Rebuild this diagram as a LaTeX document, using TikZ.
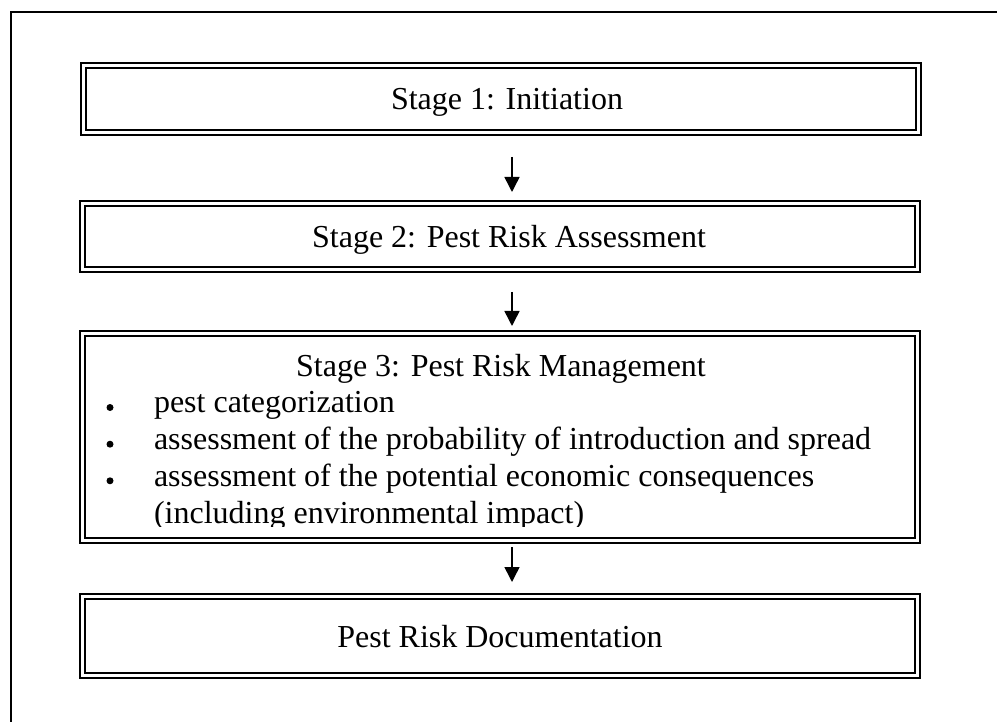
\documentclass[tikz,border=0pt]{standalone}
\usepackage{fontspec}
\setmainfont{Liberation Serif}
\usetikzlibrary{arrows.meta,calc}
\begin{document}
\begin{tikzpicture}[x=1pt,y=-1pt,
  dbox/.style={draw, double, double distance=3pt, line width=2pt, outer sep=0pt, inner sep=0pt},
  txt/.style={inner sep=0pt, outer sep=0pt, font=\fontsize{32}{37}\selectfont},
  bul/.style={circle, fill, inner sep=0pt, minimum size=7pt},
  arr/.style={line width=1.5pt, -{Triangle[length=15pt,width=15pt]}},
  frame/.style={line width=1.8pt}]
\useasboundingbox (0,0) rectangle (997,722);
\clip (0,0) rectangle (997,722);
\draw[frame] (11,12) rectangle (1030,750);
% boxes
\node[dbox, minimum width=834.9pt, minimum height=66.5pt] (b1) at (500.95,99.25) {};
\node[dbox, minimum width=834.5pt, minimum height=66.3pt] (b2) at (499.75,236.85) {};
\node[dbox, minimum width=834.5pt, minimum height=206.5pt] (b3) at (499.75,437.25) {};
\node[dbox, minimum width=834.5pt, minimum height=79.2pt] (b4) at (499.75,636.1) {};
\coordinate (ax) at (512,0);
% texts
\node[txt, anchor=base] (t1) at (507,110) {Stage 1: Initiation};
\node[txt, anchor=base] (t2) at (509,248) {Stage 2: Pest Risk Assessment};
\node[txt, anchor=base] (t3) at (501,377) {Stage 3: Pest Risk Management};
\node[txt, anchor=base] (t4) at (500,647) {Pest Risk Documentation};
\begin{scope}
\clip (86,337) rectangle (914,526);
\node[txt, anchor=base west] (l1) at (154,413) {pest categorization};
\node[txt, anchor=base west] (l2) at (154,449.7) {assessment of the probability of introduction and spread};
\node[txt, anchor=base west] (l3) at (154,486.3) {assessment of the potential economic consequences};
\node[txt, anchor=base west] (l4) at (154,523) {(including environmental impact)};
\end{scope}
\node[bul] (d1) at (110,407.5) {};
\node[bul] (d2) at (110,444.2) {};
\node[bul] (d3) at (110,480.8) {};
% arrows
\draw[arr, shorten <=24.5pt, shorten >=11.7pt] (b1.south -| ax) -- (b2.north -| ax);
\draw[arr, shorten <=22pt, shorten >=8pt] (b2.south -| ax) -- (b3.north -| ax);
\draw[arr, shorten <=6.5pt, shorten >=14.5pt] (b3.south -| ax) -- (b4.north -| ax);
\end{tikzpicture}
\end{document}
